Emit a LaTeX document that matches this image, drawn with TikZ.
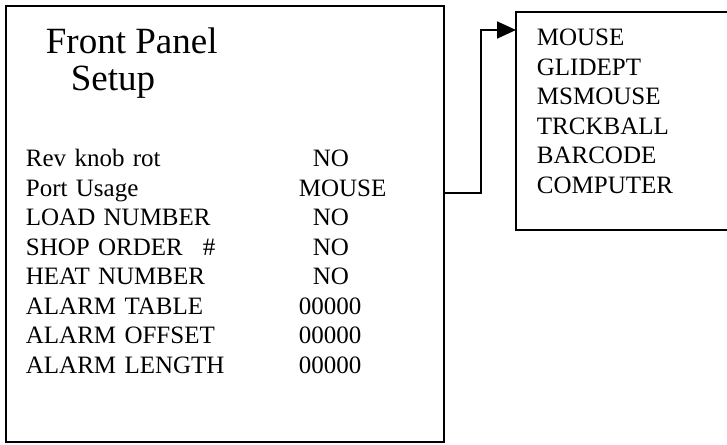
\documentclass[tikz,border=0pt]{standalone}
\usepackage{fontspec}
\setmainfont{Liberation Serif}
\usetikzlibrary{matrix,arrows.meta}

\begin{document}
\begin{tikzpicture}[x=1pt,y=-1pt,line width=1.8pt,
rows/.style={matrix of nodes,
inner sep=0pt,
anchor=north west,
nodes={inner sep=0pt,anchor=base west,align=left,text height=20pt,text depth=9.5pt,
font=\fontsize{25}{30}\selectfont}
},
big/.style={inner sep=0pt,anchor=base west,font=\fontsize{37}{44}\selectfont}]
\useasboundingbox (0,0) rectangle (727,444);
\node[draw,anchor=north west,inner sep=0pt,minimum width=438pt,minimum height=436pt] (panel) at (5,5) {};
\node[big] (title) at (45,53) {Front Panel};
\node[big] (subtitle) at (70,90) {Setup};
\matrix[rows,
column 1/.style={nodes={text width=273pt}},
column 2/.style={nodes={text width=100pt}}
] (m) at (25,146) {
Rev knob rot & \hspace*{14pt}NO \\
Port Usage & MOUSE \\
LOAD NUMBER & \hspace*{14pt}NO \\
SHOP ORDER\hspace{20pt}\# & \hspace*{14pt}NO \\
HEAT NUMBER & \hspace*{14pt}NO \\
ALARM TABLE & 00000 \\
ALARM OFFSET & 00000 \\
ALARM LENGTH & 00000 \\
};
% port usage choices
\draw (727,12) -| (516,230) -- (727,230);
\matrix[rows] (opts) at (536,25) {
MOUSE \\
GLIDEPT \\
MSMOUSE \\
TRCKBALL \\
BARCODE \\
COMPUTER \\
};
\coordinate (optsin) at (516,30);
\coordinate (portout) at (panel.east |- 0,193);
\draw[-{Triangle[length=19pt,width=17pt]}] (portout) -- ++(36,0) |- (optsin);
\end{tikzpicture}
\end{document}
